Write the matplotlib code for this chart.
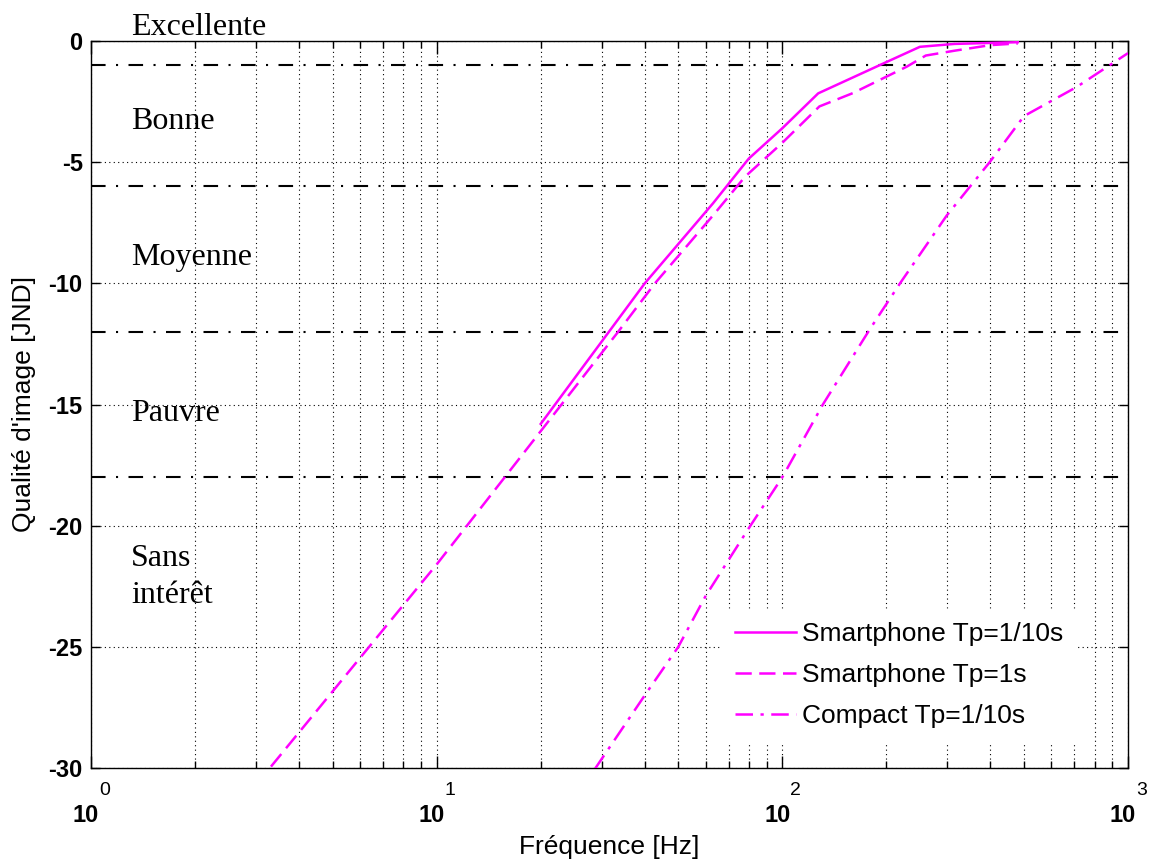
import numpy as np
import matplotlib
matplotlib.use("Agg")
import matplotlib.pyplot as plt
from matplotlib.transforms import ScaledTranslation

plt.rcParams['font.family'] = ['Liberation Sans', 'DejaVu Sans']

# Smartphone Tp=1/10s
f_sp10 = [20, 31.5, 40, 63, 80, 100, 127, 200, 250, 315, 480]
q_sp10 = [-15.8, -12.0, -10.0, -6.7, -4.85, -3.6, -2.16, -0.87, -0.24, -0.12, -0.05]

# Smartphone Tp=1s
f_sp1 = [3, 10, 20, 33.5, 42.8, 63, 78, 100, 128, 160, 229, 260, 315, 400, 480]
q_sp1 = [-30.7, -21.6, -16.1, -12.0, -10.0, -7.2, -5.6, -4.2, -2.7, -2.15, -1.06, -0.6, -0.4, -0.17, -0.1]

# Compact Tp=1/10s
f_cp = [25, 40, 50, 60, 80, 100, 131, 179, 219, 299, 398, 500, 710, 1000]
q_cp = [-31.3, -27.0, -25.0, -22.9, -20.1, -18.0, -15.0, -11.9, -10.0, -7.2, -5.0, -3.1, -1.9, -0.5]

labels = ["Smartphone Tp=1/10s", "Smartphone Tp=1s", "Compact Tp=1/10s"]

# quality class limits and names
limits = [-1, -6, -12, -18]
classes = ["Excellente", "Bonne", "Moyenne", "Pauvre", "Sans", "intérêt"]
class_y = [0.25, -3.64, -9.26, -15.7, -21.65, -23.2]

xticks = [1, 10, 100, 1000]
exponents = ["0", "1", "2", "3"]
yticks = [-30, -25, -20, -15, -10, -5, 0]

fig = plt.figure(figsize=(11.5, 8.6), dpi=100)
ax = fig.add_axes([91/1150, (860-768)/860, (1128-91)/1150, (768-41)/860])
ax.set_xscale('log')
ax.set_xlim(1, 1000)
ax.set_ylim(-30, 0)

# grid
ax.grid(True, which='both', axis='x', color='black', linestyle=(0, (1, 3)), linewidth=0.8)
ax.grid(True, which='major', axis='y', color='black', linestyle=(0, (1, 3)), linewidth=0.8)
ax.set_axisbelow(True)

for lim in limits:
    ax.axhline(lim, color='black', linewidth=1.5, linestyle=(0, (7, 5, 1, 5)), zorder=2)

mag = '#ff00ff'
ax.plot(f_sp10, q_sp10, color=mag, lw=1.8, ls='-', label=labels[0], zorder=3)
ax.plot(f_sp1, q_sp1, color=mag, lw=1.8, ls=(0, (6.5, 3)), label=labels[1], zorder=3)
ax.plot(f_cp, q_cp, color=mag, lw=1.8, ls=(0, (7, 3, 1.3, 3)), label=labels[2], zorder=3)

for name, y in zip(classes, class_y):
    ax.text(1.305, y, name, family='Liberation Serif', fontsize=23, va='baseline',
            ha='left', clip_on=False, zorder=4)

# ticks
ax.set_xticks(xticks)
ax.set_xticklabels(['10'] * len(xticks), fontsize=17, fontweight='bold')
ax.set_yticks(yticks)
ax.set_yticklabels([str(v) for v in yticks], fontsize=17, fontweight='bold')
ax.tick_params(axis='x', which='major', direction='in', length=9, width=1, top=True, pad=26)
ax.tick_params(axis='x', which='minor', direction='in', length=5, width=1, top=True)
ax.tick_params(axis='y', which='major', direction='in', length=6.5, width=1, right=True, pad=6)
for lab in ax.get_xticklabels():
    lab.set_transform(lab.get_transform() + ScaledTranslation(-5/100, 0, fig.dpi_scale_trans))
for xt, e in zip(xticks, exponents):
    ax.annotate(e, xy=(xt, 0), xycoords=('data', 'axes fraction'), xytext=(9.5, -16.5),
                textcoords='offset points', ha='center', va='center', fontsize=14,
                annotation_clip=False)

for s in ax.spines.values():
    s.set_linewidth(1.0)

ax.set_xlabel("Fréquence [Hz]", fontsize=19, labelpad=6)
ax.set_ylabel("Qualité d'image [JND]", fontsize=19, labelpad=9)

leg = ax.legend(loc='lower left', bbox_to_anchor=((722-91)/1037, (768-741)/727), fontsize=19,
                frameon=True, fancybox=False, edgecolor='white', facecolor='white',
                framealpha=1, handlelength=2.3, handletextpad=0.23, labelspacing=0.64,
                borderpad=0.5, borderaxespad=0)

fig.savefig('out.png', dpi=100)
